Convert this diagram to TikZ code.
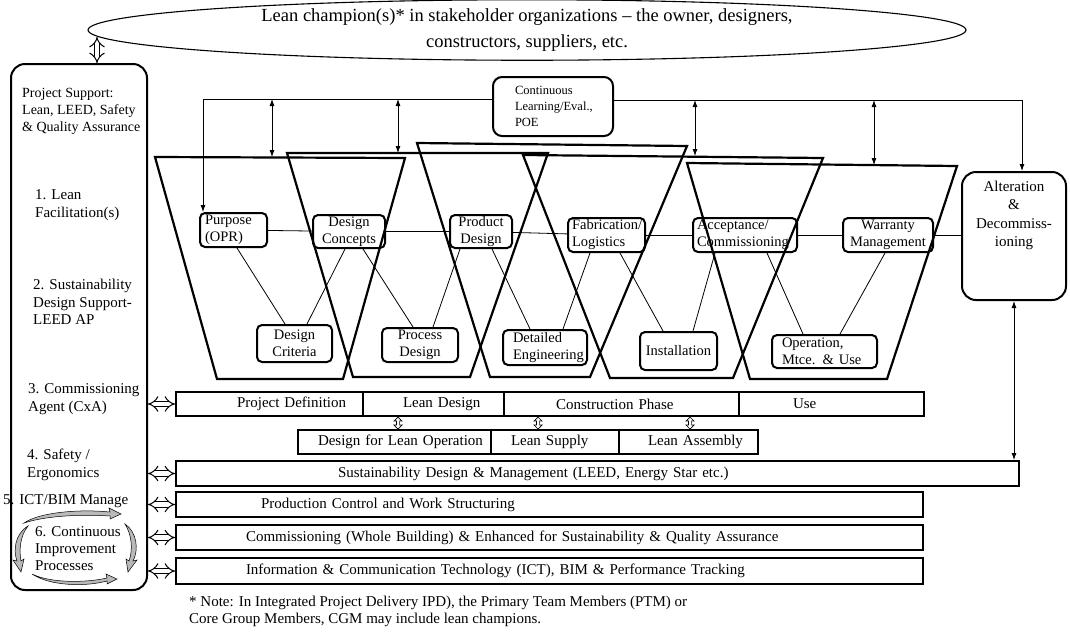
\documentclass[tikz,border=0pt]{standalone}
\usepackage{fontspec}
\setmainfont{Liberation Serif}
\usetikzlibrary{arrows.meta,shapes.geometric,calc}
\newcommand{\fsz}[2]{\fontsize{#1}{#2}\selectfont}
\begin{document}
\begin{tikzpicture}[x=1pt,y=-1pt,
  trap/.style={line width=2.2pt, line join=miter},
  sbox/.style={draw, line width=2pt, rounded corners=5pt, inner sep=0pt, font=\fsz{14.5}{17}},
  barbox/.style={draw, line width=2pt, inner sep=0pt, anchor=north west, align=left, font=\fsz{15}{18}},
  thinln/.style={line width=0.8pt},
  darrow/.style={line width=0.8pt, {Latex[length=7pt,width=5pt]}-{Latex[length=7pt,width=5pt]}},
  sarrow/.style={line width=0.8pt, -{Latex[length=7pt,width=5pt]}},
  hollow/.style={double, double distance=4.5pt, line width=1pt, {Implies}-{Implies}},
  shollow/.style={line width=0.7pt, line join=miter, fill=white},
  ptext/.style={anchor=west, align=left, inner sep=0pt, font=\fsz{15}{17.5}},
  swoosh/.style={fill=gray!55, draw=black, line width=0.5pt},
]
\fill[white] (0,0) rectangle (1070,633);
\useasboundingbox (0,0) rectangle (1070,633);

% ---------- top ellipse ----------
\node[ellipse, draw, line width=1.1pt, minimum width=878pt, minimum height=58pt, inner sep=0pt,
      align=center, font=\fsz{18.5}{26}] (champ) at (527,30)
  {Lean champion(s)* in stakeholder organizations -- the owner, designers,\\constructors, suppliers, etc.};

% ---------- left panel ----------
\node[draw, line width=2pt, rounded corners=14pt, minimum width=136pt, minimum height=526pt,
      inner sep=0pt, anchor=north west] (panel) at (10,63) {};
\coordinate (ea) at (97,37);
\draw[hollow] (ea) -- (ea |- panel.north);

\node[ptext, font=\fsz{14}{17}] (ps) at (22,111) {Project Support:\\Lean, LEED, Safety\\\& Quality Assurance};
\node[ptext] (lf) at (35,205) {1. Lean\\Facilitation(s)};
\node[ptext] (sd) at (33,302) {2. Sustainability\\Design Support-\\LEED AP};
\node[ptext] (ca) at (28,399) {3. Commissioning\\Agent (CxA)};
\node[ptext] (se) at (27,465) {4. Safety /\\Ergonomics};
\node[ptext] (ictm) at (3,501) {5. ICT/BIM Manage};
\node[ptext, font=\fsz{15}{17}] (ci) at (35,549) {6. Continuous\\Improvement\\Processes};

% continuous improvement swooshes
\filldraw[swoosh] (24,523) .. controls (40,512) and (80,509) .. (110,512) -- (109,508) -- (121,514) -- (110,519) -- (110,516) .. controls (80,514) and (45,516) .. (24,523) -- cycle;
\filldraw[swoosh] (28,526) .. controls (15,534) and (13,550) .. (17,561) -- (13,560) -- (21,572) -- (24,559) -- (21,561) .. controls (19,550) and (20,536) .. (28,526) -- cycle;
\filldraw[swoosh] (125,524) .. controls (137,532) and (139,550) .. (133,561) -- (137,560) -- (128,572) -- (126,559) -- (129,561) .. controls (133,550) and (132,535) .. (125,524) -- cycle;
\filldraw[swoosh] (32,574) .. controls (50,583) and (85,583) .. (107,578) -- (106,574) -- (117,579) -- (107,584) -- (107,581) .. controls (85,587) and (50,586) .. (32,574) -- cycle;

% ---------- trapezoids ----------
\draw[trap] (155,157) -- (405,158) -- (343,379) -- (217,379) -- cycle;
\draw[trap] (287,153) -- (548,153) -- (470,377) -- (353,377) -- cycle;
\draw[trap] (417,143) -- (687,146) -- (590,377) -- (490,377) -- cycle;
\draw[trap] (523,155) -- (823,158) -- (733,378) -- (610,378) -- cycle;
\draw[trap] (687,163) -- (957,166) -- (887,379) -- (750,379) -- cycle;

% ---------- boxes ----------
\node[sbox, minimum width=67pt, minimum height=34pt, text width=57pt, align=left] (purpose) at (233.5,230) {Purpose\\(OPR)};
\node[sbox, minimum width=72pt, minimum height=33pt, align=center] (dc) at (349,231.5) {Design\\Concepts};
\node[sbox, minimum width=62pt, minimum height=33pt, align=center] (prod) at (481,231.5) {Product\\Design};
\node[sbox, minimum width=77pt, minimum height=34pt, text width=69pt, align=left] (fab) at (606.5,235) {Fabrication/\\Logistics};
\node[sbox, minimum width=104pt, minimum height=34pt, text width=96pt, align=left] (acc) at (745,235) {Acceptance/\\Commissioning};
\node[sbox, minimum width=90pt, minimum height=34pt, align=center] (war) at (888,235) {Warranty\\Management};
\node[sbox, rounded corners=14pt, minimum width=104pt, minimum height=128pt, anchor=north] (alt) at (1014,171) {};
\node[anchor=north, align=center, inner sep=0pt, font=\fsz{15}{18.3}] (alttext) at (1014,181) {Alteration\\\&\\Decommiss-\\ioning};

\node[sbox, minimum width=75pt, minimum height=37pt, align=center] (crit) at (294.5,343.5) {Design\\Criteria};
\node[sbox, minimum width=76pt, minimum height=34pt, align=center] (proc) at (420,345) {Process\\Design};
\node[sbox, minimum width=84pt, minimum height=35pt, text width=64pt, align=left] (det) at (545,347.5) {Detailed\\Engineering};
\node[sbox, minimum width=77pt, minimum height=38pt, align=center] (inst) at (678.5,351) {Installation};
\node[sbox, minimum width=105pt, minimum height=33pt, text width=85pt, align=left] (oper) at (824.5,351.5) {Operation,\\Mtce. \& Use};

\node[sbox, rounded corners=9pt, minimum width=120pt, minimum height=59pt, text width=76pt, align=left, font=\fsz{12.5}{16}] (cle) at (553,106.5) {Continuous\\Learning/Eval.,\\POE};

% horizontal chain
\draw[thinln] (purpose) -- (dc);
\draw[thinln] (dc) -- (prod);
\draw[thinln] (prod) -- (fab);
\draw[thinln] (fab) -- (acc);
\draw[thinln] (acc) -- (war);
\draw[thinln] (war) -- (alt);

% diagonals
\draw[thinln] ([xshift=3.5pt]purpose.south) -- ([xshift=-9.5pt]crit.north);
\draw[thinln] ([xshift=-4pt]dc.south) -- ([xshift=12.5pt]crit.north);
\draw[thinln] ([xshift=14pt]dc.south) -- ([xshift=-7pt]proc.north);
\draw[thinln] ([xshift=-21pt]prod.south) -- ([xshift=13pt]proc.north);
\draw[thinln] ([xshift=11pt]prod.south) -- ([xshift=-15pt]det.north);
\draw[thinln] ([xshift=-16.5pt]fab.south) -- ([xshift=18pt]det.north);
\draw[thinln] ([xshift=13.5pt]fab.south) -- ([xshift=-15.5pt]inst.north);
\draw[thinln] ([xshift=-30pt]acc.south) -- ([xshift=14.5pt]inst.north);
\draw[thinln] ([xshift=22pt]acc.south) -- ([xshift=-21.5pt]oper.north);
\draw[thinln] ([xshift=-3pt]war.south) -- ([xshift=15.5pt]oper.north);

% ---------- feedback loop on top ----------
\coordinate (tl) at (203,99);
\coordinate (tr) at (1022,100);
\draw[sarrow] (cle.west |- tl) -- (tl) -- (tl |- purpose.north);
\draw[sarrow] (cle.east |- tr) -- (tr) -- (tr |- alt.north);
\coordinate (a1t) at (272,99);  \coordinate (a1b) at (272,157);
\coordinate (a2t) at (398,99);  \coordinate (a2b) at (398,153);
\coordinate (a3t) at (695,100); \coordinate (a3b) at (695,156);
\coordinate (a4t) at (874,100); \coordinate (a4b) at (874,165);
\draw[darrow] (a1t) -- (a1b);
\draw[darrow] (a2t) -- (a2b);
\draw[darrow] (a3t) -- (a3b);
\draw[darrow] (a4t) -- (a4b);

% ---------- bars ----------
\node[barbox, text width=187pt, minimum height=24pt] (pd) at (175,391) {\hspace*{61pt}Project Definition};
\node[barbox, text width=141pt, minimum height=24pt] (ld) at (362,391) {\hspace*{40pt}Lean Design};
\node[barbox, text width=235pt, minimum height=24pt] (cp) at (503,391) {\hspace*{52pt}Construction Phase};
\node[barbox, text width=185pt, minimum height=24pt] (use) at (738,391) {\hspace*{54pt}Use};

\node[barbox, text width=193pt, minimum height=24pt] (dlo) at (297,429) {\hspace*{20pt}Design for Lean Operation};
\node[barbox, text width=128pt, minimum height=24pt] (ls) at (490,429) {\hspace*{20pt}Lean Supply};
\node[barbox, text width=139pt, minimum height=24pt] (la) at (618,429) {\hspace*{29pt}Lean Assembly};

\node[barbox, text width=843pt, minimum height=25pt] (sust) at (175,460) {\hspace*{162pt}Sustainability Design \& Management (LEED, Energy Star etc.)};
\node[barbox, text width=747pt, minimum height=25pt] (pcw) at (175,491) {\hspace*{85pt}Production Control and Work Structuring};
\node[barbox, text width=747pt, minimum height=25pt] (comm) at (175,524) {\hspace*{70pt}Commissioning (Whole Building) \& Enhanced for Sustainability \& Quality Assurance};
\node[barbox, text width=747pt, minimum height=26pt] (ictb) at (175,557) {\hspace*{70pt}Information \& Communication Technology (ICT), BIM \& Performance Tracking};

% small hollow double arrows between phase rows
\coordinate (s1) at (398,0);
\coordinate (s2) at (538,0);
\coordinate (s3) at (690,0);
\foreach \up/\lo/\s in {ld/dlo/s1, cp/ls/s2, cp/la/s3}{
  \path (\up.south -| \s) coordinate (u) (\lo.north -| \s) coordinate (d);
  \draw[shollow] (u) -- ([xshift=4pt,yshift=-4pt]u) -- ([xshift=1.6pt,yshift=-4pt]u)
     -- ([xshift=1.6pt,yshift=4pt]d) -- ([xshift=4pt,yshift=4pt]d) -- (d)
     -- ([xshift=-4pt,yshift=4pt]d) -- ([xshift=-1.6pt,yshift=4pt]d)
     -- ([xshift=-1.6pt,yshift=-4pt]u) -- ([xshift=-4pt,yshift=-4pt]u) -- cycle;
}

% hollow arrows from panel to bars
\draw[hollow] (panel.east |- pd.west) -- (pd.west);
\draw[hollow] (panel.east |- sust.west) -- (sust.west);
\draw[hollow] (panel.east |- pcw.west) -- (pcw.west);
\draw[hollow] (panel.east |- comm.west) -- (comm.west);
\draw[hollow] (panel.east |- ictb.west) -- (ictb.west);

% alteration to sustainability
\draw[darrow] (alt.south) -- (alt.south |- sust.north);

% ---------- note ----------
\node[anchor=north west, align=left, inner sep=0pt, font=\fsz{15}{16.5}] (note) at (189,596)
  {* Note: In Integrated Project Delivery IPD), the Primary Team Members (PTM) or\\Core Group Members, CGM may include lean champions.};
\end{tikzpicture}
\end{document}
